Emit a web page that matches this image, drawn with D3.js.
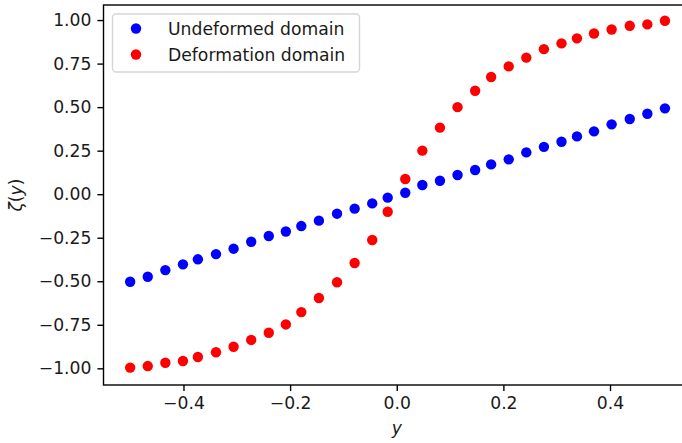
<!DOCTYPE html>
<html>
<head>
<meta charset="utf-8">
<script src="https://cdn.jsdelivr.net/npm/d3@7"></script>
<style>
  body { margin: 0; background: #fff; }
  svg { display: block; font-family: "DejaVu Sans", sans-serif; }
</style>
</head>
<body>
<script>
// data
const yPos = [-0.500, -0.467, -0.434, -0.401, -0.373, -0.339, -0.306, -0.273,
  -0.240, -0.208, -0.179, -0.146, -0.112, -0.079, -0.046, -0.017,
  0.016, 0.048, 0.081, 0.114, 0.147, 0.177, 0.210, 0.243,
  0.276, 0.309, 0.338, 0.370, 0.403, 0.437, 0.470, 0.503];

const undeformed = [-0.503, -0.474, -0.436, -0.403, -0.374, -0.344, -0.313, -0.273,
  -0.240, -0.214, -0.183, -0.152, -0.112, -0.083, -0.053, -0.020,
  0.008, 0.053, 0.077, 0.110, 0.139, 0.171, 0.200, 0.240,
  0.272, 0.301, 0.332, 0.361, 0.401, 0.432, 0.462, 0.493];

const deformation = [-0.996, -0.987, -0.968, -0.958, -0.935, -0.908, -0.876, -0.837,
  -0.796, -0.748, -0.677, -0.596, -0.506, -0.395, -0.263, -0.101,
  0.087, 0.250, 0.382, 0.500, 0.594, 0.673, 0.734, 0.784,
  0.833, 0.866, 0.895, 0.923, 0.946, 0.967, 0.975, 0.996];

const seriesNames = ["Undeformed domain", "Deformation domain"];
const seriesColors = ["#0000ff", "#ff0000"];
const xTicks = [-0.4, -0.2, 0.0, 0.2, 0.4];
const yTicks = [-1.0, -0.75, -0.5, -0.25, 0.0, 0.25, 0.5, 0.75, 1.0];

let width = 682,
    height = 443;

let margin = {top: 5, left: 103.5, right: 690, bottom: 385};

let svg = d3.select('body')
  .append('svg')
    .attr('width', width)
    .attr('height', height);

let xScale = d3.scaleLinear()
  .domain([-0.55, 0.55])
  .range([margin.left, margin.right]);

let yScale = d3.scaleLinear()
  .domain([-1.0958, 1.0865])
  .range([margin.bottom, margin.top]);

const fontSize = 17.2;
const tickLen = 6.1;

// axes
let xAxis = svg.append('g')
  .attr('transform', `translate(0,${margin.bottom})`)
  .call(d3.axisBottom(xScale).tickValues(xTicks).tickFormat(d3.format('.1f'))
    .tickSizeInner(tickLen).tickSizeOuter(0).tickPadding(6));

let yAxis = svg.append('g')
  .attr('transform', `translate(${margin.left},0)`)
  .call(d3.axisLeft(yScale).tickValues(yTicks).tickFormat(d3.format('.2f'))
    .tickSizeInner(tickLen).tickSizeOuter(0).tickPadding(6));

[xAxis, yAxis].forEach(a => {
  a.select('.domain').remove();
  a.selectAll('.tick line').attr('stroke', '#000').attr('stroke-width', 1.4);
  a.selectAll('.tick text')
    .attr('fill', '#1a1a1a')
    .style('font-size', fontSize + 'px')
    .style('font-family', '"DejaVu Sans", sans-serif');
});

// spines (right one falls outside the picture)
svg.append('rect')
  .attr('x', margin.left)
  .attr('y', margin.top)
  .attr('width', margin.right - margin.left)
  .attr('height', margin.bottom - margin.top)
  .attr('fill', 'none')
  .attr('stroke', '#000')
  .attr('stroke-width', 1.4);

// points
const series = [undeformed, deformation];
series.forEach((vals, i) => {
  svg.append('g')
    .selectAll('circle')
    .data(vals)
    .enter()
    .append('circle')
      .attr('cx', (d, j) => xScale(yPos[j]))
      .attr('cy', d => yScale(d))
      .attr('r', 5.2)
      .attr('fill', seriesColors[i]);
});

// axis labels
svg.append('text')
  .attr('x', (margin.left + margin.right) / 2)
  .attr('y', 434)
  .attr('text-anchor', 'middle')
  .style('font-size', fontSize + 'px')
  .style('font-style', 'italic')
  .attr('fill', '#1a1a1a')
  .text('y');

let yLab = svg.append('text')
  .attr('transform', `translate(22,${(margin.top + margin.bottom) / 2}) rotate(-90)`)
  .attr('text-anchor', 'middle')
  .style('font-size', fontSize + 'px')
  .attr('fill', '#1a1a1a');
yLab.append('tspan').style('font-style', 'italic').text('ζ');
yLab.append('tspan').text('(');
yLab.append('tspan').style('font-style', 'italic').text('y');
yLab.append('tspan').text(')');

// legend
let legend = svg.append('g');
legend.append('rect')
  .attr('x', 112.5)
  .attr('y', 14)
  .attr('width', 247)
  .attr('height', 58)
  .attr('rx', 3.5)
  .attr('fill', '#fff')
  .attr('fill-opacity', 0.8)
  .attr('stroke', '#d6d6d6')
  .attr('stroke-width', 1.4);

let rows = legend.selectAll('g.row')
  .data(seriesNames)
  .enter()
  .append('g')
    .attr('class', 'row')
    .attr('transform', (d, i) => `translate(0,${28.5 + i * 26})`);

rows.append('circle')
  .attr('cx', 136)
  .attr('cy', 0)
  .attr('r', 5.2)
  .attr('fill', (d, i) => seriesColors[i]);

rows.append('text')
  .attr('x', 168)
  .attr('y', 0)
  .attr('dy', '0.36em')
  .style('font-size', fontSize + 'px')
  .attr('fill', '#1a1a1a')
  .text(d => d);
</script>
</body>
</html>
